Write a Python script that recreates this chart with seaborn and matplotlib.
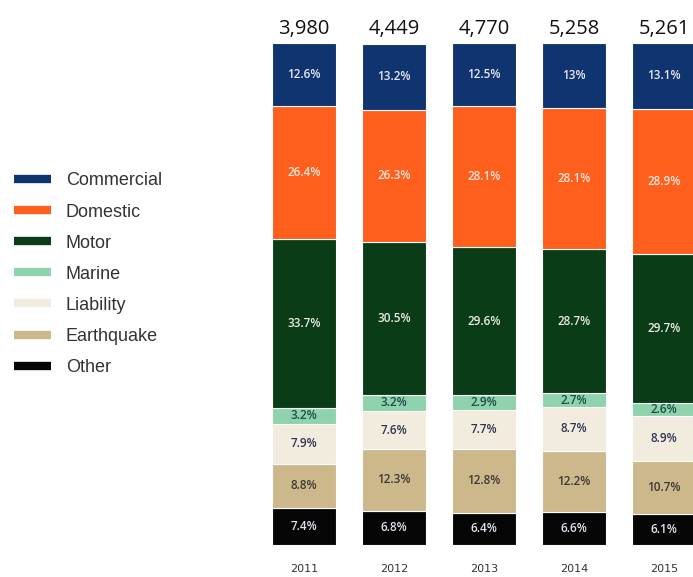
import pandas as pd
import seaborn as sns
import matplotlib.pyplot as plt
from matplotlib.lines import Line2D

# Data (share of premiums by line, %)
years = ["2011", "2012", "2013", "2014", "2015"]
totals = ["3,980", "4,449", "4,770", "5,258", "5,261"]
categories = ["Commercial", "Domestic", "Motor", "Marine", "Liability", "Earthquake", "Other"]
commercial = [12.6, 13.2, 12.5, 13.0, 13.1]
domestic = [26.4, 26.3, 28.1, 28.1, 28.9]
motor = [33.7, 30.5, 29.6, 28.7, 29.7]
marine = [3.2, 3.2, 2.9, 2.7, 2.6]
liability = [7.9, 7.6, 7.7, 8.7, 8.9]
earthquake = [8.8, 12.3, 12.8, 12.2, 10.7]
other = [7.4, 6.8, 6.4, 6.6, 6.1]

series = {
    "Commercial": commercial,
    "Domestic": domestic,
    "Motor": motor,
    "Marine": marine,
    "Liability": liability,
    "Earthquake": earthquake,
    "Other": other,
}
colors = {
    "Commercial": "#0f3470",
    "Domestic": "#ff5f1c",
    "Motor": "#0a3c17",
    "Marine": "#8ed3ad",
    "Liability": "#f1ecdd",
    "Earthquake": "#cdb88b",
    "Other": "#050505",
}
text_colors = {
    "Commercial": "#e6e8f2",
    "Domestic": "#fbe6dc",
    "Motor": "#e6ece6",
    "Marine": "#1f4d45",
    "Liability": "#2e3452",
    "Earthquake": "#3b3a32",
    "Other": "#dfe3ee",
}

df = pd.DataFrame(series, index=years)

fig = plt.figure(figsize=(6.93, 5.77), dpi=100)
ax = fig.add_axes([250 / 693, 1 - 545 / 577, 443 / 693, 502 / 577])

# stack from the bottom: Other first, Commercial on top
stack_order = categories[::-1]
bottom = pd.Series(0.0, index=years)
for cat in stack_order:
    sns.barplot(x=years, y=df[cat].values, bottom=bottom.values, color=colors[cat],
                width=64 / 90, edgecolor="white", linewidth=0.8, saturation=1, ax=ax)
    for i, y in enumerate(years):
        val = df.loc[y, cat]
        ax.text(i, bottom[y] + val / 2, f"{val:g}%", ha="center", va="center",
                fontsize=8.5, fontweight="semibold", color=text_colors[cat],
                family="Open Sans")
    bottom = bottom + df[cat]

# totals above bars
for i, t in enumerate(totals):
    ax.annotate(t, xy=(i, 100), xytext=(0, 3), textcoords="offset points",
                ha="center", va="bottom", fontsize=14.5, color="#111111",
                family="Open Sans", annotation_clip=False)

ax.set_xlim(-0.6, 4.322)
ax.set_ylim(0, 100)
ax.set_xlabel("")
ax.set_ylabel("")
ax.set_yticks([])
ax.tick_params(axis="x", length=0, pad=14, labelsize=8, labelcolor="#333333")
for s in ax.spines.values():
    s.set_visible(False)

# legend on the left
handles = [Line2D([0], [0], color=colors[c], lw=6, solid_capstyle="butt") for c in categories]
fig.legend(handles, categories, loc="upper left", bbox_to_anchor=(0, 1 - 158 / 577),
           frameon=False, prop={"family": "Liberation Sans", "size": 13},
           handlelength=2.0, handletextpad=0.85, labelspacing=0.78, borderpad=0.3,
           labelcolor="#333333")

plt.savefig("out.png", dpi=100)
plt.close()
